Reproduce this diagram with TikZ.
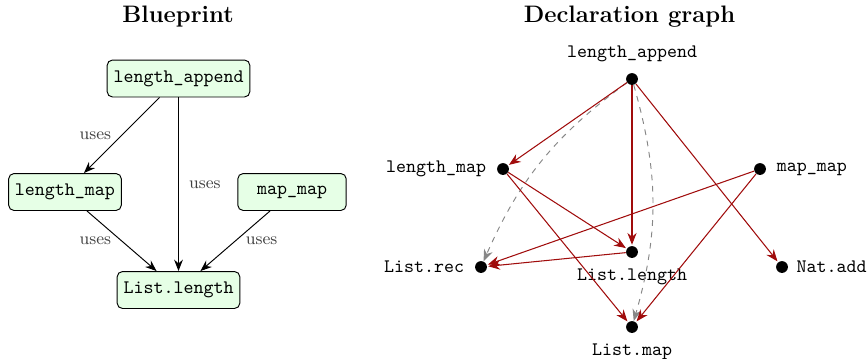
\documentclass[tikz,border=0pt]{standalone}
\usetikzlibrary{arrows.meta}
\definecolor{depred}{RGB}{160,12,12}
\definecolor{boxgreen}{RGB}{230,255,230}
\definecolor{dashgray}{RGB}{135,135,135}
\begin{document}
\begin{tikzpicture}[x=0.525pt,y=-0.525pt,
  title/.style={font=\fontsize{12.5}{15}\selectfont\bfseries, anchor=base},
  bpbox/.style={draw, rounded corners=2.8pt, fill=boxgreen, font=\ttfamily,
    minimum width=2cm, minimum height=19.4pt, line width=0.5pt},
  uselab/.style={font=\small, text=black!75},
  bparrow/.style={-{Stealth[length=6pt,width=4.6pt,inset=2pt]}, black, line width=0.5pt},
  dotnode/.style={circle, fill=black, inner sep=0pt, minimum size=6.2pt},
  deparrow/.style={-{Stealth[length=6.2pt,width=4.8pt,inset=2pt]}, depred, line width=0.55pt, shorten >=0.5pt},
  dasharrow/.style={-{Stealth[length=6.2pt,width=4.8pt,inset=2pt]}, dashgray, dashed, line width=0.5pt},
  every label/.style={font=\ttfamily},
  label distance=2pt]
\useasboundingbox (0,0) rectangle (867,358);

% ---------- Blueprint ----------
\node[title] (t1) at (178,22) {Blueprint};
\node[bpbox] (bla) at (178.5,78.5) {length\_append};
\node[bpbox] (blm) at (65,192) {length\_map};
\node[bpbox] (bmm) at (292,192) {map\_map};
\node[bpbox] (bll) at (178.5,290) {List.length};

\draw[bparrow] (bla) -- node[uselab, midway, left=2pt] {uses} (blm);
\draw[bparrow] (bla) -- node[uselab, midway, right=2pt] {uses} (bll);
\draw[bparrow] (blm) -- node[uselab, midway, left=2pt] {uses} (bll);
\draw[bparrow] (bmm) -- node[uselab, midway, right=2pt] {uses} (bll);

% ---------- Declaration graph ----------
\node[title] (t2) at (629.5,22) {Declaration graph};
\node[dotnode, label=above:length\_append] (la) at (632,79) {};
\node[dotnode, label=left:length\_map] (lm) at (503,169) {};
\node[dotnode, label=right:map\_map] (mm) at (760,169) {};
\node[dotnode, label=below:List.length] (ll) at (632,252) {};
\node[dotnode, label=left:List.rec] (lr) at (481,267) {};
\node[dotnode, label={[label distance=0.8pt]right:Nat.add}] (na) at (782,267) {};
\node[dotnode, label=below:List.map] (lmp) at (632,327) {};

\draw[dasharrow] (la) to[bend right=15] (lr);
\draw[dasharrow] (la) to[bend left=16] (lmp);

\draw[deparrow] (la) -- (lm);
\draw[deparrow] (la) -- (ll);
\draw[deparrow] (la) -- (na);
\draw[deparrow] (lm) -- (ll);
\draw[deparrow] (lm) -- (lmp);
\draw[deparrow] (mm) -- (lr);
\draw[deparrow] (mm) -- (lmp);
\draw[deparrow] (ll) -- (lr);
\end{tikzpicture}
\end{document}
